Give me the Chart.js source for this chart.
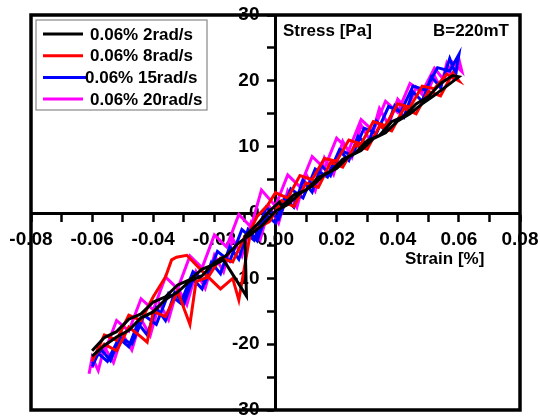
<!DOCTYPE html>
<html>
<head>
<meta charset="utf-8">
<script src="https://cdn.jsdelivr.net/npm/chart.js@4.4.1/dist/chart.umd.min.js"></script>
<style>
  html, body { margin: 0; padding: 0; background: #fff; }
  canvas { display: block; }
</style>
</head>
<body>
<canvas id="c" width="540" height="418"></canvas>
<script>
// Stress–strain loops at 0.06 % strain amplitude, B = 220 mT
const seriesLabels = ['0.06% 2rad/s', '0.06% 8rad/s', '0.06% 15rad/s', '0.06% 20rad/s'];
const seriesColors = ['#000000', '#ff0000', '#0000ff', '#ff00ff'];

const xTickValues = [-0.08, -0.06, -0.04, -0.02, 0, 0.02, 0.04, 0.06, 0.08];
const yTickValues = [-30, -20, -10, 0, 10, 20, 30];

// 2 rad/s
const strain2 = [-0.060, -0.056, -0.052, -0.048, -0.044, -0.040, -0.036, -0.032, -0.028, -0.024, -0.020, -0.016, -0.012, -0.008, -0.004, 0.000, 0.004, 0.008, 0.012, 0.016, 0.020, 0.024, 0.028, 0.032, 0.036, 0.040, 0.044, 0.048, 0.052, 0.056, 0.060,
  0.058, 0.054, 0.050, 0.046, 0.042, 0.038, 0.034, 0.030, 0.026, 0.022, 0.018, 0.014, 0.010, 0.006, 0.002, 0.0013, -0.002, -0.006, -0.010, -0.0095, -0.017, -0.020, -0.024, -0.028, -0.032, -0.036, -0.040, -0.044, -0.048, -0.052, -0.056, -0.060];
const stress2 = [-21.8, -20.2, -18.9, -17.9, -16.0, -15.1, -13.2, -12.1, -10.4, -9.6, -7.6, -6.5, -4.6, -3.3, -1.8, 0.2, 1.2, 2.9, 4.0, 5.8, 6.7, 8.5, 9.4, 11.2, 12.1, 13.9, 15.0, 16.5, 17.8, 19.2, 20.6,
  20.8, 19.6, 17.6, 16.5, 14.6, 13.8, 11.7, 10.9, 9.0, 8.1, 6.2, 5.3, 3.4, 2.7, 0.9, 1.6, 0.2, -1.8, -3.6, -12.7, -7.2, -7.9, -8.6, -10.2, -11.0, -12.8, -13.6, -15.4, -16.2, -18.1, -19.0, -21.0];

// 8 rad/s
const strain8 = [-0.060, -0.056, -0.052, -0.048, -0.044, -0.042, -0.040, -0.036, -0.032, -0.028, -0.026, -0.022, -0.018, -0.014, -0.010, -0.006, -0.002, 0.002, 0.006, 0.010, 0.014, 0.018, 0.022, 0.026, 0.030, 0.034, 0.038, 0.042, 0.046, 0.050, 0.054, 0.058, 0.060,
  0.056, 0.052, 0.048, 0.044, 0.040, 0.036, 0.032, 0.028, 0.024, 0.020, 0.016, 0.012, 0.008, 0.004, 0.000, -0.0026, -0.006, -0.008, -0.012, -0.014, -0.018, -0.024, -0.029, -0.0324, -0.034, -0.036, -0.040, -0.044, -0.048, -0.052, -0.056, -0.060];
const stress8 = [-22.2, -20.0, -21.0, -17.4, -18.9, -19.7, -15.0, -15.8, -12.0, -17.0, -10.5, -9.8, -6.9, -7.5, -3.6, -2.4, -1.4, 1.8, 0.9, 4.5, 3.8, 7.6, 6.9, 10.2, 9.6, 13.1, 12.4, 15.8, 15.0, 18.4, 17.7, 21.2, 20.0,
  21.0, 18.8, 19.2, 16.0, 16.5, 13.2, 13.8, 10.4, 11.0, 7.8, 8.2, 5.0, 5.6, 2.2, 3.0, 1.1, -0.6, -2.5, -13.3, -10.0, -11.6, -8.9, -6.5, -6.8, -7.2, -9.8, -12.8, -16.4, -15.6, -19.4, -18.6, -22.6];

// 15 rad/s
const strain15 = [-0.060, -0.057, -0.054, -0.051, -0.048, -0.045, -0.042, -0.039, -0.036, -0.033, -0.030, -0.027, -0.024, -0.021, -0.018, -0.015, -0.012, -0.009, -0.006, -0.003, 0.000, 0.003, 0.006, 0.009, 0.012, 0.015, 0.018, 0.021, 0.024, 0.027, 0.030, 0.033, 0.036, 0.039, 0.042, 0.045, 0.048, 0.051, 0.054, 0.057, 0.059, 0.060,
  0.057, 0.053, 0.049, 0.045, 0.041, 0.037, 0.033, 0.029, 0.025, 0.021, 0.017, 0.013, 0.009, 0.005, 0.001, -0.003, -0.007, -0.011, -0.015, -0.019, -0.023, -0.027, -0.031, -0.035, -0.039, -0.043, -0.047, -0.051, -0.055, -0.058, -0.060];
const stress15 = [-23.0, -20.8, -22.5, -19.2, -20.4, -16.8, -18.6, -14.5, -16.4, -12.2, -13.9, -10.1, -11.6, -7.6, -9.3, -5.2, -7.1, -2.6, -4.3, -0.4, -1.6, 2.3, 0.8, 4.9, 3.1, 7.2, 5.6, 9.4, 7.9, 11.6, 10.2, 13.9, 12.4, 16.2, 14.5, 18.3, 16.9, 20.6, 19.0, 23.4, 21.0, 24.0,
  21.5, 22.0, 18.6, 19.2, 15.3, 16.1, 12.0, 12.8, 8.6, 9.6, 5.4, 6.6, 2.2, 3.6, -1.0, 0.8, -4.2, -2.6, -7.4, -5.9, -10.6, -9.0, -13.8, -12.3, -17.0, -15.6, -20.0, -18.9, -22.6, -21.4, -23.4];

// 20 rad/s
const strain20 = [-0.061, -0.060, -0.058, -0.056, -0.053, -0.050, -0.047, -0.044, -0.041, -0.038, -0.035, -0.032, -0.029, -0.026, -0.023, -0.020, -0.017, -0.014, -0.011, -0.008, -0.005, -0.002, 0.001, 0.004, 0.007, 0.010, 0.013, 0.016, 0.019, 0.022, 0.025, 0.028, 0.031, 0.034, 0.037, 0.040, 0.043, 0.046, 0.049, 0.052, 0.054, 0.056, 0.058, 0.060, 0.061,
  0.058, 0.055, 0.052, 0.048, 0.044, 0.040, 0.036, 0.032, 0.028, 0.024, 0.020, 0.016, 0.012, 0.008, 0.004, 0.000, -0.0046, -0.008, -0.012, -0.016, -0.020, -0.024, -0.028, -0.032, -0.036, -0.040, -0.044, -0.048, -0.052, -0.056, -0.058, -0.060];
const stress20 = [-24.5, -22.0, -24.0, -20.4, -22.8, -18.5, -20.9, -16.2, -18.7, -13.8, -16.3, -11.4, -14.0, -9.0, -11.5, -6.5, -9.0, -4.0, -6.6, -1.6, -4.1, 0.9, -1.6, 3.3, 0.8, 5.8, 3.3, 8.3, 5.8, 10.8, 8.4, 13.3, 10.9, 15.8, 13.3, 17.2, 15.6, 19.0, 17.4, 20.8, 18.9, 22.6, 20.4, 23.3, 21.4,
  22.8, 20.2, 21.9, 18.3, 19.6, 15.2, 16.9, 12.4, 14.1, 9.5, 11.3, 6.7, 8.5, 3.9, 5.7, 1.0, 3.4, -2.2, -0.3, -5.2, -3.4, -8.4, -6.6, -11.6, -9.8, -14.8, -13.1, -18.0, -16.4, -21.3, -20.6, -23.6];

const strainSets = [strain2, strain8, strain15, strain20];
const stressSets = [stress2, stress8, stress15, stress20];

const FONT = 'Arial, "Liberation Sans", Helvetica, sans-serif';

const datasets = seriesLabels.map((label, i) => ({
  label,
  data: strainSets[i].map((x, k) => ({ x, y: stressSets[i][k] })),
  borderColor: seriesColors[i],
  backgroundColor: seriesColors[i],
  borderWidth: 3,
  showLine: true,
  pointRadius: 0,
  tension: 0,
  fill: false
}));

// White plot box with heavy black frame, drawn beneath the axes
const framePlugin = {
  id: 'frame',
  beforeDraw(chart) {
    const { ctx, chartArea: a } = chart;
    ctx.save();
    ctx.fillStyle = '#fff';
    ctx.fillRect(0, 0, chart.width, chart.height);
    ctx.strokeStyle = '#000';
    ctx.lineWidth = 3.5;
    ctx.strokeRect(a.left, a.top, a.right - a.left, a.bottom - a.top);
    ctx.restore();
  }
};

// Inset legend and axis captions
const annotatePlugin = {
  id: 'annotate',
  afterDraw(chart) {
    const { ctx, chartArea: a } = chart;
    ctx.save();
    // legend box
    const bx = a.left + 5, by = a.top + 5, bw = 171, bh = 90;
    ctx.fillStyle = '#fff';
    ctx.fillRect(bx, by, bw, bh);
    ctx.strokeStyle = '#888';
    ctx.lineWidth = 1.2;
    ctx.strokeRect(bx, by, bw, bh);
    ctx.font = 'bold 17px ' + FONT;
    ctx.textBaseline = 'middle';
    ctx.textAlign = 'left';
    chart.data.datasets.forEach((ds, i) => {
      const yy = by + 14 + i * 21.7;
      ctx.strokeStyle = ds.borderColor;
      ctx.lineWidth = 3;
      ctx.beginPath();
      ctx.moveTo(bx + 7, yy);
      ctx.lineTo(bx + (i === 2 ? 50 : 47), yy);
      ctx.stroke();
      ctx.fillStyle = '#000';
      ctx.fillText(ds.label, bx + (i === 2 ? 49 : 54), yy + 1);
    });
    // captions
    ctx.fillStyle = '#000';
    ctx.font = 'bold 17px ' + FONT;
    ctx.textBaseline = 'alphabetic';
    ctx.textAlign = 'left';
    ctx.fillText('Stress [Pa]', 283, 36);
    ctx.textAlign = 'right';
    ctx.fillText('B=220mT', 509, 36);
    ctx.textAlign = 'left';
    ctx.fillText('Strain [%]', 405, 264);
    ctx.restore();
  }
};

const tickFont = { family: FONT, size: 19, weight: 'bold' };

// keep the plot box fixed by the layout padding alone
const noOverflow = (scale) => {
  scale.paddingLeft = 0;
  scale.paddingRight = 0;
  scale.paddingTop = 0;
  scale.paddingBottom = 0;
};

new Chart(document.getElementById('c'), {
  type: 'scatter',
  data: { datasets },
  options: {
    responsive: false,
    animation: false,
    devicePixelRatio: 1,
    layout: { padding: { left: 31, top: 15, right: 20, bottom: 8 } },
    plugins: { legend: { display: false }, tooltip: { enabled: false } },
    scales: {
      x: {
        type: 'linear',
        position: 'center',
        min: xTickValues[0],
        max: xTickValues[xTickValues.length - 1],
        afterFit: noOverflow,
        ticks: {
          stepSize: 0.01,
          autoSkip: false,
          maxRotation: 0,
          minRotation: 0,
          padding: 9,
          color: '#000',
          font: tickFont,
          callback: (v) => {
            const hit = xTickValues.find(t => Math.abs(t - v) < 1e-6);
            return hit === undefined ? '' : hit.toFixed(2);
          }
        },
        grid: { drawOnChartArea: false, drawTicks: true, tickLength: 7, tickWidth: 2.5, tickColor: '#000' },
        border: { display: true, color: '#000', width: 3 }
      },
      y: {
        type: 'linear',
        position: 'center',
        min: yTickValues[0],
        max: yTickValues[yTickValues.length - 1],
        afterFit: noOverflow,
        ticks: {
          stepSize: 5,
          autoSkip: false,
          padding: 9,
          color: '#000',
          font: tickFont,
          callback: (v) => yTickValues.includes(v) ? String(v) : ''
        },
        grid: { drawOnChartArea: false, drawTicks: true, tickLength: 7, tickWidth: 2.5, tickColor: '#000' },
        border: { display: true, color: '#000', width: 3 }
      }
    }
  },
  plugins: [framePlugin, annotatePlugin]
});
</script>
</body>
</html>
